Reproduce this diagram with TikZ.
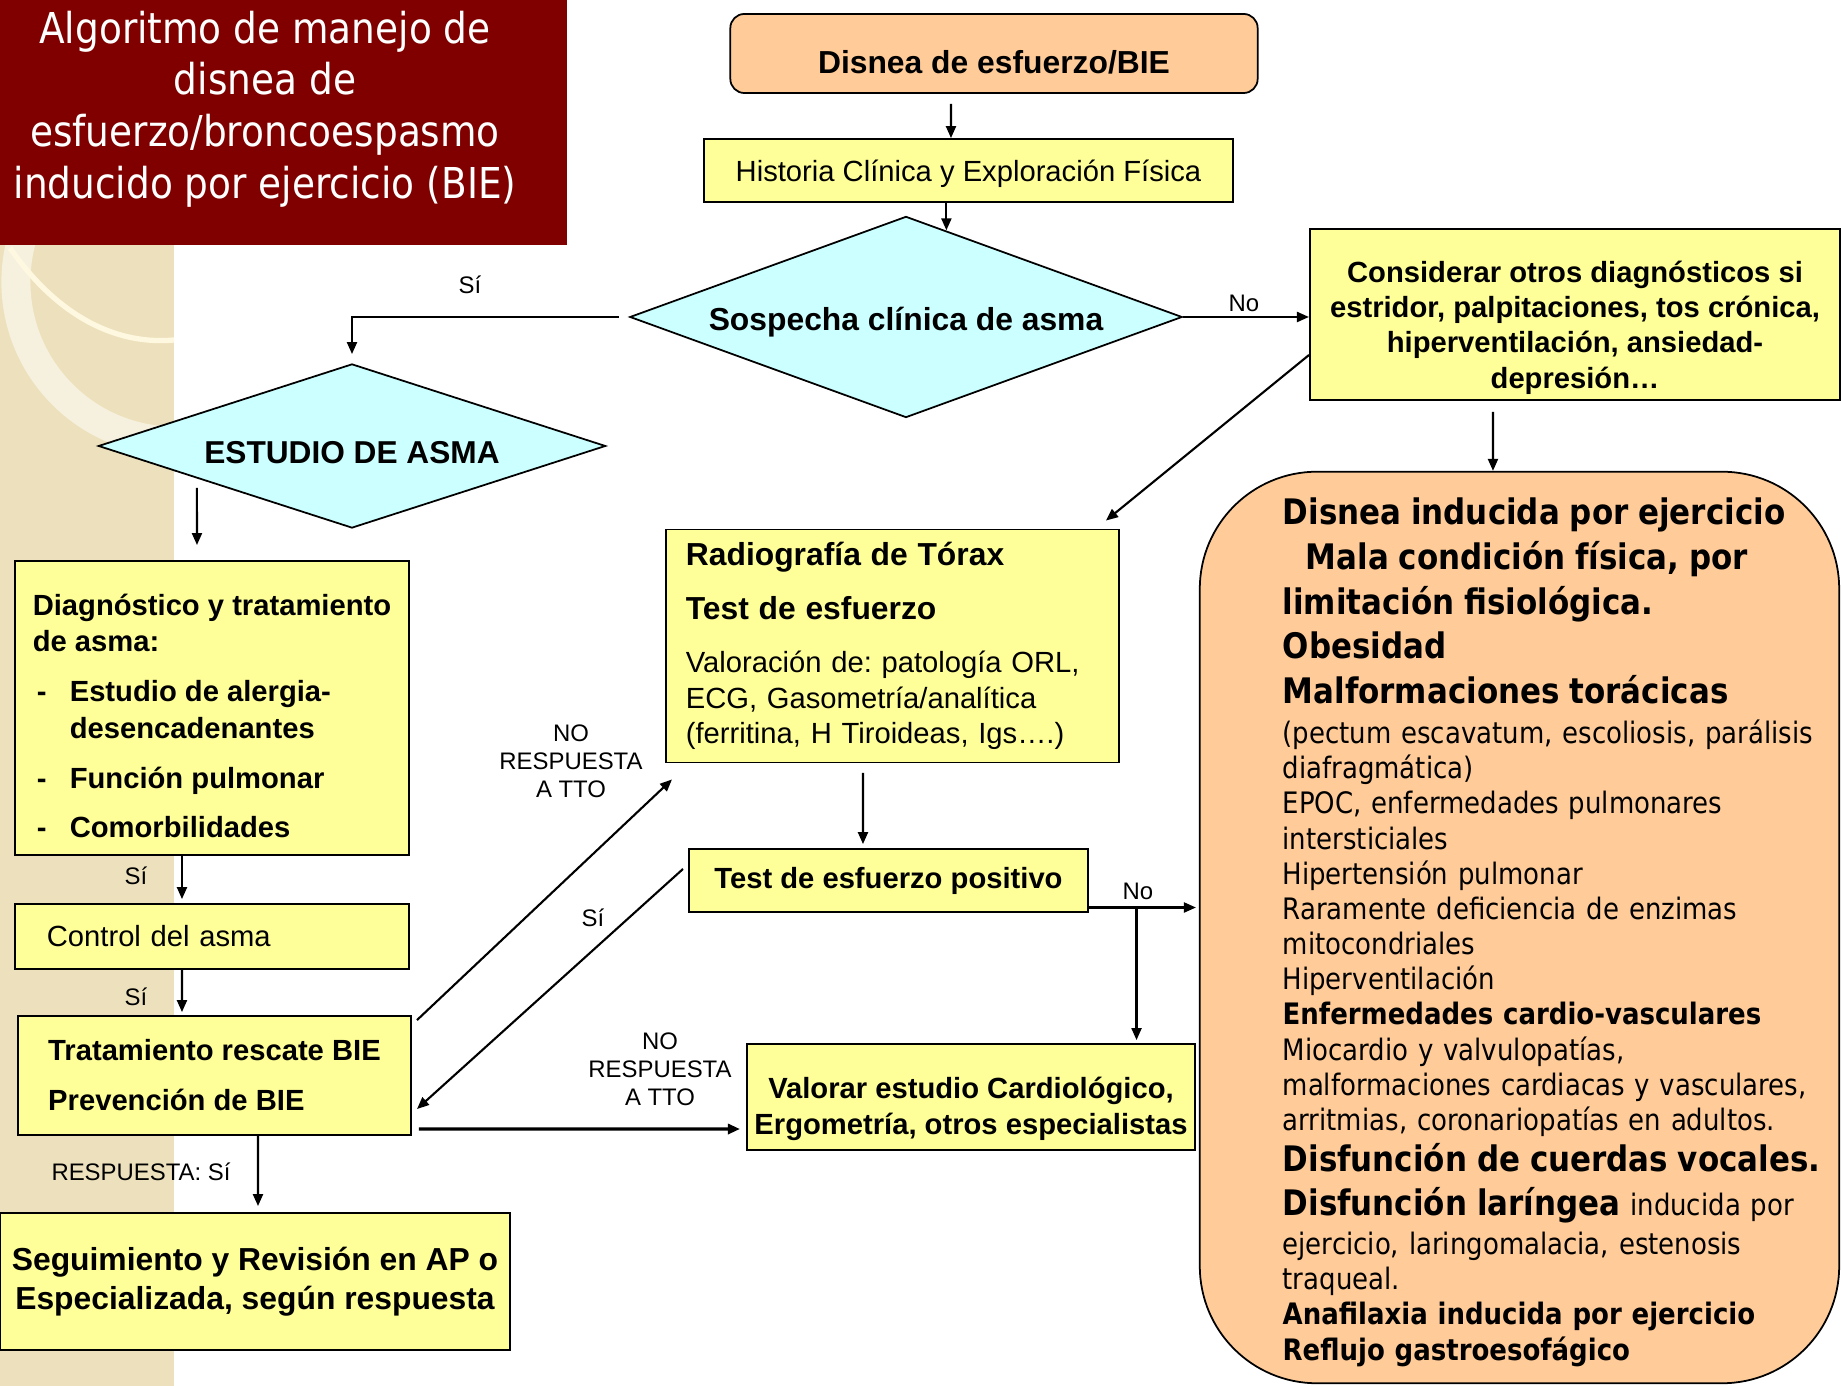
\documentclass[tikz,border=0pt]{standalone}
\usepackage{fontspec}
\setmainfont{Liberation Sans}
\newfontfamily\tahoma[FakeStretch=0.88]{DejaVu Sans}
\usetikzlibrary{shapes.geometric}
\usetikzlibrary{arrows.meta}
\frenchspacing

\definecolor{titlered}{RGB}{128,0,0}
\definecolor{boxyellow}{RGB}{255,255,153}
\definecolor{boxcyan}{RGB}{204,255,255}
\definecolor{boxpeach}{RGB}{255,204,153}
\definecolor{stripbg}{RGB}{237,225,189}
\definecolor{stripline}{RGB}{255,248,225}

\newcommand{\fsmall}{\fontsize{8.3}{10}\selectfont}
\newcommand{\fbig}{\fontsize{9.05}{11}\selectfont}
\newcommand{\flab}{\fontsize{6.8}{8}\selectfont}
\newcommand{\cbig}{\tahoma\bfseries\fontsize{10}{12.7}\selectfont}
\newcommand{\csmall}{\tahoma\mdseries\fontsize{8.4}{10}\selectfont}
\newcommand{\cmed}{\tahoma\bfseries\fontsize{8.4}{10}\selectfont}
\newcommand{\guion}{\hspace*{0.04cm}\makebox[0.33cm][l]{-}}
\newcommand{\toprow}[1]{\rule{0pt}{#1}}
\newcommand{\botrow}[1]{\rule[-#1]{0pt}{0pt}}

\begin{document}
\begin{tikzpicture}[x=0.01cm, y=-0.01cm,
  box/.style={draw=black, line width=0.5pt, fill=boxyellow, inner sep=0pt},
  choice/.style={diamond, draw=black, line width=0.5pt, fill=boxcyan, inner sep=0pt, shape aspect=3},
  arr/.style={-{Triangle[length=0.12cm,width=0.1cm]}, line width=0.6pt},
  lab/.style={font=\flab, inner sep=0pt, align=center}]
 \useasboundingbox (0,0) rectangle (1841,1386);

 % background strip and title
 \begin{scope}
  \clip (0,245) rectangle (174,1386);
  \fill[stripbg] (0,245) rectangle (174,1386);
  \draw[white, opacity=0.5, line width=0.29cm] (175,282) circle (1.59cm);
  \draw[stripline, line width=1.5pt] (10,248) .. controls (60,320) and (120,345) .. (174,340);
 \end{scope}
 \fill[titlered] (0,0) rectangle (567,245);
 \node[text=white, align=center, inner sep=0pt, font=\tahoma\fontsize{12.1}{14.7}\selectfont] (titulo) at (265,109)
  {Algoritmo de manejo de\\disnea de\\esfuerzo/broncoespasmo\\inducido por ejercicio (BIE)};

 % boxes
 \node[box, fill=boxpeach, rounded corners=0.14cm, minimum width=5.27cm, minimum height=0.79cm,
   text height=0.595cm, text depth=0.195cm, font=\fbig\bfseries] (disnea) at (994,53.5) {Disnea de esfuerzo/BIE};
 \node[box, minimum width=5.29cm, minimum height=0.63cm, text height=0.429cm, text depth=0.201cm, font=\fsmall] (historia) at (968.5,170.5)
  {Historia Clínica y Exploración Física};
 \node[choice, minimum width=5.52cm, minimum height=2.01cm, text height=0.3cm, text depth=0.026cm, font=\fbig\bfseries] (sosp) at (906,317)
  {Sospecha clínica de asma};
 \node[box, minimum width=5.30cm, minimum height=1.71cm, align=center, font=\fsmall\bfseries] (considerar) at (1575,314.5)
  {\toprow{0.536cm}Considerar otros diagnósticos si\\estridor, palpitaciones, tos crónica,\\hiperventilación, ansiedad-\\depresión…\botrow{0.12cm}};
 \node[choice, minimum width=5.07cm, minimum height=1.64cm, text height=0.348cm, text depth=0cm, font=\fontsize{9}{11}\selectfont\bfseries] (estudio) at (352,446)
  {ESTUDIO DE ASMA};
 \node[box, minimum width=3.94cm, minimum height=2.94cm, align=left, font=\fontsize{8.3}{10.4}\selectfont\bfseries] (diag) at (212,708)
  {\toprow{0.49cm}Diagnóstico y tratamiento\\de asma:\\[3.8pt]\guion Estudio de alergia-\\\hspace*{0.37cm}desencadenantes\\[3.8pt]\guion Función pulmonar\\[3.8pt]\guion Comorbilidades\botrow{0.12cm}};
 \node[box, minimum width=3.94cm, minimum height=0.65cm, text width=3.30cm, inner xsep=0.32cm, align=left, font=\fsmall] (control) at (212,936.5) {Control del asma};
 \node[box, minimum width=3.93cm, minimum height=1.19cm, align=left, font=\fontsize{8.3}{14.2}\selectfont\bfseries] (trat) at (214.5,1075.5)
  {Tratamiento rescate BIE\\Prevención de BIE};
 \node[box, minimum width=5.10cm, minimum height=1.37cm, align=center, font=\fontsize{9.05}{11}\selectfont\bfseries] (seguim) at (255,1281.5)
  {Seguimiento y Revisión en AP o\\Especializada, según respuesta};
 \node[box, minimum width=4.53cm, minimum height=2.33cm, text width=4.13cm, inner xsep=0.2cm, align=left, font=\fontsize{8.3}{10.1}\selectfont] (radiog) at (892.5,646)
  {{\fontsize{9.05}{10.1}\selectfont\bfseries Radiografía de Tórax}\\[5.3pt]
   {\fontsize{9.05}{10.1}\selectfont\bfseries Test de esfuerzo}\\[5pt]
   Valoración de: patología ORL,\\ECG, Gasometría/analítica\\(ferritina, H Tiroideas, Igs….)};
 \node[box, minimum width=3.99cm, minimum height=0.63cm, font=\fsmall\bfseries] (testpos) at (888.5,880.5) {Test de esfuerzo positivo};
 \node[box, minimum width=4.48cm, minimum height=1.06cm, align=center, font=\fontsize{8.3}{10.1}\selectfont\bfseries] (valorar) at (971,1097)
  {\toprow{0.51cm}Valorar estudio Cardiológico,\\Ergometría, otros especialistas\botrow{0.12cm}};
 \node[draw=black, line width=0.5pt, fill=boxpeach, rounded corners=1.17cm, minimum width=6.39cm, minimum height=9.11cm] (causas) at (1519.5,927.5) {};
 \node[anchor=north west, inner sep=0pt, text width=5.6cm, align=left, font=\cmed] (causastxt) at (1282,497.5)
  {\cbig Disnea inducida por ejercicio\\
   \hspace*{0.23cm}Mala condición física, por\\
   limitación fisiológica.\\
   Obesidad\\
   Malformaciones torácicas\\[1.4pt]
   \csmall (pectum escavatum, escoliosis, parálisis\\
   diafragmática)\\
   EPOC, enfermedades pulmonares\\
   intersticiales\\
   Hipertensión pulmonar\\
   Raramente deficiencia de enzimas\\
   mitocondriales\\
   Hiperventilación\\
   \cmed Enfermedades cardio-vasculares\\
   \csmall Miocardio y valvulopatías,\\
   malformaciones cardiacas y vasculares,\\
   arritmias, coronariopatías en adultos.\\[-1.1pt]
   \cbig Disfunción de cuerdas vocales.\\
   Disfunción laríngea {\csmall inducida por}\\[1pt]
   \csmall ejercicio, laringomalacia, estenosis\\
   traqueal.\\
   \cmed Anafilaxia inducida por ejercicio\\
   Reflujo gastroesofágico};

 % connectors
 \draw[arr, shorten <=0.1cm] ([xshift=-0.43cm]disnea.south) -- ([xshift=-0.175cm]historia.north);
 \draw[arr] (historia.south -| sosp.65) -- (sosp.65);
 \draw[arr] ([xshift=-0.1cm]sosp.west) -| ([yshift=0.09cm]estudio.north);
 \draw[arr] (sosp.east) -- (considerar.west |- sosp.east);
 \draw[arr] ([yshift=-0.405cm]considerar.west) -- ([xshift=-0.14cm,yshift=0.08cm]radiog.north east);
 \draw[arr] ([xshift=-0.82cm,yshift=-0.11cm]considerar.south) -- ([xshift=-0.265cm]causas.north);
 \draw[arr] ([xshift=-1.55cm,yshift=0.41cm]estudio.south) -- ([xshift=-0.15cm,yshift=0.15cm]diag.north);
 \draw[arr] ([xshift=-0.3cm]diag.south) -- ([xshift=-0.3cm,yshift=0.04cm]control.north);
 \draw[arr] ([xshift=-0.3cm]control.south) -- ([xshift=-0.325cm,yshift=0.03cm]trat.north);
 \draw[arr] ([xshift=0.435cm]trat.south) -- ([xshift=0.03cm,yshift=0.06cm]seguim.north);
 \draw[arr] ([xshift=0.05cm,yshift=-0.05cm]trat.north east) -- ([xshift=0.07cm,yshift=-0.16cm]radiog.south west);
 \draw[arr] ([xshift=-0.05cm,yshift=0.115cm]testpos.west) -- ([xshift=0.05cm,yshift=-0.335cm]trat.east);
 \draw[arr, line width=0.9pt] ([xshift=0.07cm,yshift=-0.535cm]trat.east) -- ([xshift=-0.06cm,yshift=-0.32cm]valorar.west);
 \draw[arr] ([xshift=-0.295cm,yshift=-0.095cm]radiog.south) -- ([xshift=-0.255cm,yshift=0.04cm]testpos.north);
 \coordinate (nofork) at ([xshift=0.475cm,yshift=-0.27cm]testpos.east);
 \draw[arr] ([yshift=-0.27cm]testpos.east) -- ([xshift=-0.03cm]causas.west |- nofork);
 \draw[arr] (nofork) -- ([yshift=0.03cm]valorar.north -| nofork);

 % labels
 \node[lab] (lsi1) at (470,285) {Sí};
 \node[lab] (lno1) at (1244,303) {No};
 \node[lab] (lsi2) at (136,876) {Sí};
 \node[lab] (lsi3) at (136,997) {Sí};
 \node[lab] (lresp) at (141,1172) {RESPUESTA: Sí};
 \node[lab] (lnoresp1) at (571,761) {NO\\RESPUESTA\\A TTO};
 \node[lab] (lsi4) at (593,918) {Sí};
 \node[lab] (lnoresp2) at (660,1069) {NO\\RESPUESTA\\A TTO};
 \node[lab] (lno2) at (1138,891) {No};
\end{tikzpicture}
\end{document}
